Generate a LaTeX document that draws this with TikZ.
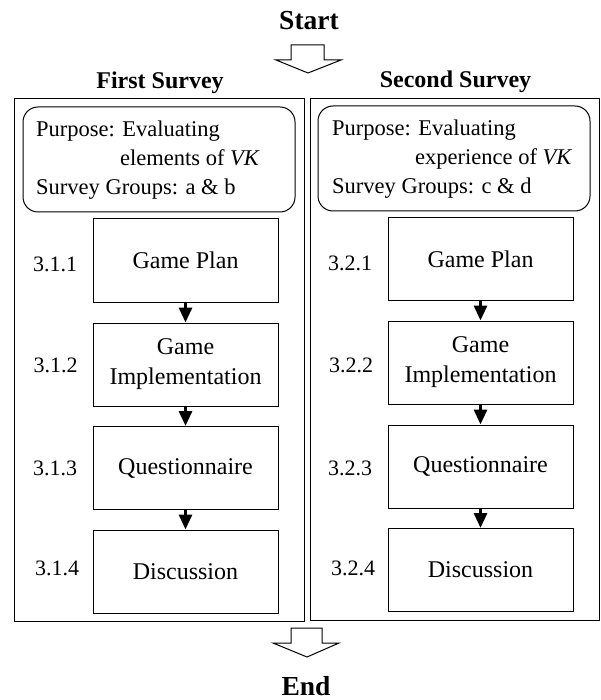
\documentclass[tikz,border=0pt]{standalone}
\usepackage{fontspec}
\setmainfont{Liberation Serif}
\usetikzlibrary{arrows.meta}
\begin{document}
\begin{tikzpicture}[x=1pt,y=-1pt,
  stepbox/.style={draw, line width=1pt, minimum width=185pt, minimum height=83pt, inner sep=0pt, align=center, font=\fontsize{24}{30}\selectfont},
  outerbox/.style={draw, line width=1pt, inner sep=0pt},
  purposebox/.style={draw, line width=1pt, rounded corners=15pt, minimum width=272pt, minimum height=105pt, inner sep=0pt},
  ptext/.style={anchor=base west, inner sep=0pt, font=\fontsize{22.5}{27}\selectfont},
  numlabel/.style={inner sep=0pt, font=\fontsize{22}{26}\selectfont},
  header/.style={anchor=base, inner sep=0pt, font=\bfseries\fontsize{24}{28}\selectfont},
  terminal/.style={anchor=base, inner sep=0pt, font=\bfseries\fontsize{27.5}{32}\selectfont},
  flow/.style={line width=3pt, -{Triangle[width=13pt,length=15pt]}},
  openarrow/.style={draw, line width=1pt, line join=miter, fill=white}
]
\useasboundingbox (0,0) rectangle (600,700);

% terminals and headers
\node[terminal] (start) at (309,30) {Start};
\node[terminal] (end) at (306,695) {End};
\node[header] (h1) at (160,89) {First Survey};
\node[header] (h2) at (455.5,88) {Second Survey};

% open arrows
\draw[openarrow] (291,45) -- (324,45) -- (324,60) -- (341,60) -- (308,73) -- (276,60) -- (291,60) -- cycle;
\draw[openarrow] (291,628) -- (322,628) -- (322,643) -- (339,643) -- (307,657) -- (273,643) -- (291,643) -- cycle;

% outer boxes
\node[outerbox, minimum width=290pt, minimum height=522pt] (outer1) at (159,360) {};
\node[outerbox, minimum width=289pt, minimum height=521pt] (outer2) at (454.5,359.5) {};

% purpose boxes
\node[purposebox] (pur1) at (159,159.5) {};
\node[purposebox] (pur2) at (454,158.5) {};
\node[ptext] (p1a) at (36,136.7) {Purpose: Evaluating};
\node[ptext] (p1b) at (120,166) {elements of \textit{VK}};
\node[ptext] (p1c) at (36,195) {Survey Groups: a \& b};
\node[ptext] (p2a) at (332,136) {Purpose: Evaluating};
\node[ptext] (p2b) at (415,165) {experience of \textit{VK}};
\node[ptext] (p2c) at (332,194) {Survey Groups: c \& d};

% first survey steps
\node[stepbox] (a1) at (185.5,260.5) {Game Plan};
\node[stepbox] (a2) at (185.5,364.5) {Game\\Implementation};
\node[stepbox] (a3) at (185.5,468) {Questionnaire};
\node[stepbox] (a4) at (185.5,571.5) {Discussion};
\node[numlabel] (la1) at (55,264) {3.1.1};
\node[numlabel] (la2) at (55.5,365) {3.1.2};
\node[numlabel] (la3) at (55,468) {3.1.3};
\node[numlabel] (la4) at (57,568) {3.1.4};

% second survey steps
\node[stepbox] (b1) at (480.5,259) {Game Plan};
\node[stepbox] (b2) at (480.5,362.5) {Game\\Implementation};
\node[stepbox] (b3) at (480.5,466.5) {Questionnaire};
\node[stepbox] (b4) at (480.5,570) {Discussion};
\node[numlabel] (lb1) at (350,263) {3.2.1};
\node[numlabel] (lb2) at (351,365) {3.2.2};
\node[numlabel] (lb3) at (350,468) {3.2.3};
\node[numlabel] (lb4) at (353,568) {3.2.4};

% connectors
\draw[flow] (a1.south) -- (a2.north);
\draw[flow] (a2.south) -- (a3.north);
\draw[flow] (a3.south) -- (a4.north);
\draw[flow] (b1.south) -- (b2.north);
\draw[flow] (b2.south) -- (b3.north);
\draw[flow] (b3.south) -- (b4.north);
\end{tikzpicture}
\end{document}
